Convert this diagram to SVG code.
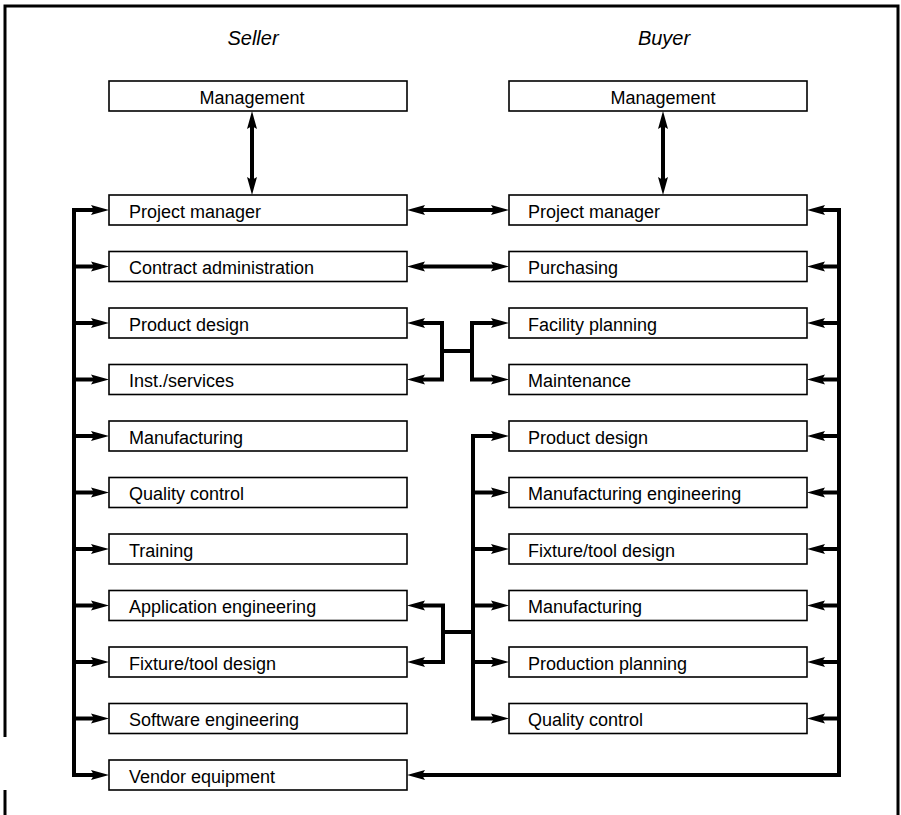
<svg xmlns="http://www.w3.org/2000/svg" width="901" height="815" viewBox="0 0 901 815">
  <style>
    .box { fill: #fff; stroke: #000; stroke-width: 1.6; }
    .lbl { font-family: "Liberation Sans", Arial, sans-serif; font-size: 18px; fill: #000; }
    .mid { text-anchor: middle; }
    .title { font-family: "Liberation Sans", Arial, sans-serif; font-size: 20px; font-style: italic; fill: #000; text-anchor: middle; }
    .frame { fill: none; stroke: #000; stroke-width: 3; }
    .wire { fill: none; stroke: #000; stroke-width: 4; stroke-linejoin: miter; }
    .arr { marker-end: url(#head); }
    .arr2 { marker-start: url(#head); marker-end: url(#head); }
  </style>
  <defs>
    <marker id="head" markerUnits="userSpaceOnUse" markerWidth="18" markerHeight="10" refX="6" refY="5" orient="auto-start-reverse" overflow="visible">
      <path d="M0,0 L18,5 L0,10 L3,5 z" fill="#000"/>
    </marker>
  </defs>

  <rect width="901" height="815" fill="#fff"/>

  <!-- outer frame -->
  <g id="frame">
    <path class="frame" d="M5,737 V6 H898 V815"/>
    <path class="frame" d="M5,790 V815"/>
  </g>

  <!-- column headings -->
  <text class="title" x="253" y="45">Seller</text>
  <text class="title" x="664" y="45">Buyer</text>

  <!-- seller side -->
  <g id="s-management"><rect class="box" x="109" y="81" width="298" height="30"/><text class="lbl mid" x="252" y="104">Management</text></g>
  <g id="s-project-manager"><rect class="box" x="109" y="195" width="298" height="30"/><text class="lbl" x="129" y="217.5">Project manager</text></g>
  <g id="s-contract-admin"><rect class="box" x="109" y="251.5" width="298" height="30"/><text class="lbl" x="129" y="274">Contract administration</text></g>
  <g id="s-product-design"><rect class="box" x="109" y="308" width="298" height="30"/><text class="lbl" x="129" y="330.5">Product design</text></g>
  <g id="s-inst-services"><rect class="box" x="109" y="364.5" width="298" height="30"/><text class="lbl" x="129" y="387">Inst./services</text></g>
  <g id="s-manufacturing"><rect class="box" x="109" y="421" width="298" height="30"/><text class="lbl" x="129" y="443.5">Manufacturing</text></g>
  <g id="s-quality-control"><rect class="box" x="109" y="477.5" width="298" height="30"/><text class="lbl" x="129" y="500">Quality control</text></g>
  <g id="s-training"><rect class="box" x="109" y="534" width="298" height="30"/><text class="lbl" x="129" y="556.5">Training</text></g>
  <g id="s-application-eng"><rect class="box" x="109" y="590.5" width="298" height="30"/><text class="lbl" x="129" y="613">Application engineering</text></g>
  <g id="s-fixture-tool"><rect class="box" x="109" y="647" width="298" height="30"/><text class="lbl" x="129" y="669.5">Fixture/tool design</text></g>
  <g id="s-software-eng"><rect class="box" x="109" y="703.5" width="298" height="30"/><text class="lbl" x="129" y="726">Software engineering</text></g>
  <g id="s-vendor-equipment"><rect class="box" x="109" y="760" width="298" height="30"/><text class="lbl" x="129" y="782.5">Vendor equipment</text></g>

  <!-- buyer side -->
  <g id="b-management"><rect class="box" x="509" y="81" width="298" height="30"/><text class="lbl mid" x="663" y="104">Management</text></g>
  <g id="b-project-manager"><rect class="box" x="509" y="195" width="298" height="30"/><text class="lbl" x="528" y="217.5">Project manager</text></g>
  <g id="b-purchasing"><rect class="box" x="509" y="251.5" width="298" height="30"/><text class="lbl" x="528" y="274">Purchasing</text></g>
  <g id="b-facility-planning"><rect class="box" x="509" y="308" width="298" height="30"/><text class="lbl" x="528" y="330.5">Facility planning</text></g>
  <g id="b-maintenance"><rect class="box" x="509" y="364.5" width="298" height="30"/><text class="lbl" x="528" y="387">Maintenance</text></g>
  <g id="b-product-design"><rect class="box" x="509" y="421" width="298" height="30"/><text class="lbl" x="528" y="443.5">Product design</text></g>
  <g id="b-manufacturing-eng"><rect class="box" x="509" y="477.5" width="298" height="30"/><text class="lbl" x="528" y="500">Manufacturing engineering</text></g>
  <g id="b-fixture-tool"><rect class="box" x="509" y="534" width="298" height="30"/><text class="lbl" x="528" y="556.5">Fixture/tool design</text></g>
  <g id="b-manufacturing"><rect class="box" x="509" y="590.5" width="298" height="30"/><text class="lbl" x="528" y="613">Manufacturing</text></g>
  <g id="b-production-planning"><rect class="box" x="509" y="647" width="298" height="30"/><text class="lbl" x="528" y="669.5">Production planning</text></g>
  <g id="b-quality-control"><rect class="box" x="509" y="703.5" width="298" height="30"/><text class="lbl" x="528" y="726">Quality control</text></g>

  <!-- connectors (line ends sit 12px short of each arrow tip) -->
  <g id="connectors">
    <!-- management links -->
    <path class="wire arr2" d="M252,123 V183"/>
    <path class="wire arr2" d="M663,123 V183"/>
    <!-- peer links -->
    <path class="wire arr2" d="M419,210 H497"/>
    <path class="wire arr2" d="M419,266.5 H497"/>
    <!-- seller bus -->
    <path class="wire arr2" d="M97,210 H74 V775 H97"/>
    <path class="wire arr" d="M74,266.5 H97"/>
    <path class="wire arr" d="M74,323 H97"/>
    <path class="wire arr" d="M74,379.5 H97"/>
    <path class="wire arr" d="M74,436 H97"/>
    <path class="wire arr" d="M74,492.5 H97"/>
    <path class="wire arr" d="M74,549 H97"/>
    <path class="wire arr" d="M74,605.5 H97"/>
    <path class="wire arr" d="M74,662 H97"/>
    <path class="wire arr" d="M74,718.5 H97"/>
    <!-- buyer bus -->
    <path class="wire arr2" d="M819,210 H839 V775 H419"/>
    <path class="wire arr" d="M839,266.5 H819"/>
    <path class="wire arr" d="M839,323 H819"/>
    <path class="wire arr" d="M839,379.5 H819"/>
    <path class="wire arr" d="M839,436 H819"/>
    <path class="wire arr" d="M839,492.5 H819"/>
    <path class="wire arr" d="M839,549 H819"/>
    <path class="wire arr" d="M839,605.5 H819"/>
    <path class="wire arr" d="M839,662 H819"/>
    <path class="wire arr" d="M839,718.5 H819"/>
    <!-- facility / maintenance bracket -->
    <path class="wire arr2" d="M419,323 H442 V379.5 H419"/>
    <path class="wire" d="M442,351 H472"/>
    <path class="wire arr2" d="M497,323 H472 V379.5 H497"/>
    <!-- engineering bracket -->
    <path class="wire arr2" d="M419,605.5 H443 V662 H419"/>
    <path class="wire" d="M443,632 H473"/>
    <path class="wire arr2" d="M497,436 H473 V718.5 H497"/>
    <path class="wire arr" d="M473,492.5 H497"/>
    <path class="wire arr" d="M473,549 H497"/>
    <path class="wire arr" d="M473,605.5 H497"/>
    <path class="wire arr" d="M473,662 H497"/>
  </g>
</svg>
